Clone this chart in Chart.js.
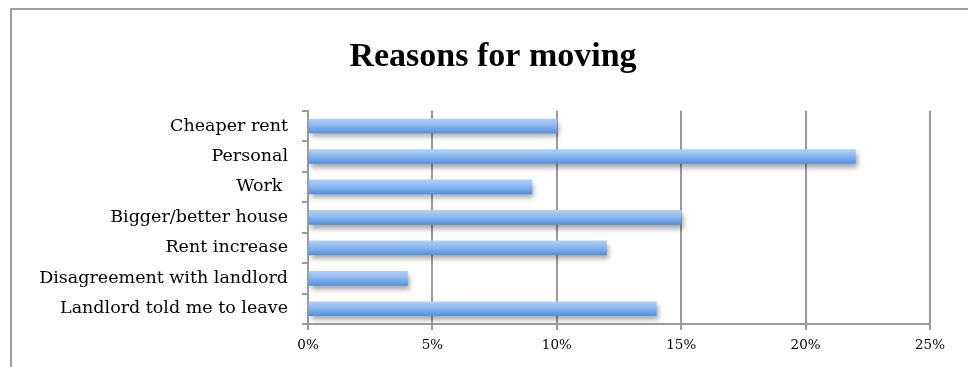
<!DOCTYPE html>
<html>
<head>
<meta charset="utf-8">
<script src="https://cdn.jsdelivr.net/npm/chart.js@4"></script>
<style>
html,body{margin:0;padding:0;background:#fff;}
#wrap{width:968px;height:367px;position:relative;}
</style>
</head>
<body>
<div id="wrap"><canvas id="c" width="968" height="367"></canvas></div>
<script>
const titleText = 'Reasons for moving';
const categories = ['Cheaper rent','Personal','Work ','Bigger/better house','Rent increase','Disagreement with landlord','Landlord told me to leave'];
const values = [10, 22, 9, 15, 12, 4, 14];
const xTicks = [0, 5, 10, 15, 20, 25];

const framePlugin = {
  id: 'frame',
  beforeDraw(chart) {
    const ctx = chart.ctx;
    ctx.save();
    ctx.fillStyle = '#fff';
    ctx.fillRect(0, 0, chart.width, chart.height);
    ctx.strokeStyle = '#a0a0a0';
    ctx.lineWidth = 2;
    ctx.strokeRect(11, 9, 2000, 2000);
    ctx.restore();
  }
};
const shadowPlugin = {
  id: 'barShadow',
  beforeDatasetsDraw(chart) {
    const ctx = chart.ctx;
    ctx.save();
    ctx.shadowColor = 'rgba(0,0,0,0.35)';
    ctx.shadowBlur = 5;
    ctx.shadowOffsetX = 2;
    ctx.shadowOffsetY = 4;
  },
  afterDatasetsDraw(chart) {
    chart.ctx.restore();
  }
};

new Chart(document.getElementById('c'), {
  type: 'bar',
  data: {
    labels: categories,
    datasets: [{
      data: values,
      barThickness: 14,
      borderWidth: 0,
      backgroundColor(ctx) {
        const chart = ctx.chart;
        const ys = chart.scales && chart.scales.y;
        if (!ys || ctx.dataIndex == null) return '#7aa9e6';
        const y = ys.getPixelForValue(ctx.dataIndex);
        if (!isFinite(y)) return '#7aa9e6';
        const g = chart.ctx.createLinearGradient(0, y - 7, 0, y + 7);
        g.addColorStop(0, '#b0cff7');
        g.addColorStop(0.45, '#8db8ef');
        g.addColorStop(1, '#5591dc');
        return g;
      }
    }]
  },
  options: {
    indexAxis: 'y',
    responsive: false,
    animation: false,
    devicePixelRatio: 1,
    layout: { padding: { left: 18, right: 0, top: 0, bottom: 0 } },
    plugins: {
      legend: { display: false },
      tooltip: { enabled: false },
      title: {
        display: true,
        text: titleText,
        color: '#000',
        font: { family: 'Liberation Serif', size: 34, weight: 'bold', lineHeight: 1.2 },
        padding: { top: 37, bottom: 33 }
      }
    },
    scales: {
      x: {
        min: 0, max: 25,
        afterBuildTicks(scale) { scale.ticks = xTicks.map(v => ({ value: v })); },
        afterFit(scale) { scale.height = 43; },
        ticks: {
          color: '#000',
          font: { family: 'DejaVu Serif', size: 13.5 },
          padding: 7,
          callback: v => v + '%'
        },
        grid: { color: '#9a9a9a', lineWidth: 2, tickLength: 6, drawTicks: true },
        border: { display: true, color: '#9a9a9a', width: 2 }
      },
      y: {
        afterFit(scale) { scale.width = 290; },
        ticks: {
          color: '#000',
          font: { family: 'DejaVu Serif', size: 17.5 },
          padding: 14
        },
        grid: { drawOnChartArea: false, drawTicks: true, tickLength: 6, color: '#9a9a9a', lineWidth: 2, offset: true },
        border: { display: true, color: '#9a9a9a', width: 2 }
      },
      yRight: {
        type: 'category',
        position: 'right',
        labels: categories,
        afterFit(scale) { scale.width = 38; },
        ticks: { display: false },
        grid: { display: false, drawTicks: false },
        border: { display: false }
      }
    }
  },
  plugins: [framePlugin, shadowPlugin]
});
</script>
</body>
</html>
